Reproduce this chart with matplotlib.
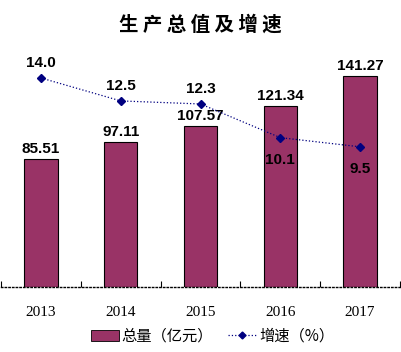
import numpy as np
import matplotlib.pyplot as plt
from matplotlib.lines import Line2D
from matplotlib.patches import Patch

years = ["2013", "2014", "2015", "2016", "2017"]
total = [85.51, 97.11, 107.57, 121.34, 141.27]
growth = [14.0, 12.5, 12.3, 10.1, 9.5]
growth_text = ["14.0", "12.5", "12.3", "10.1", "9.5"]

bar_color = "#993366"
line_color = "#000080"
cjk = ["Noto Sans CJK SC", "DejaVu Sans"]

fig = plt.figure(figsize=(4.01, 3.52), dpi=100)
ax = fig.add_axes([1 / 401, 65 / 352, 399 / 401, 247 / 352])
x = np.arange(len(years))

ax.bar(x, total, width=0.42, color=bar_color, edgecolor="black", linewidth=0.8, zorder=2)
ax.set_xlim(-0.5, len(years) - 0.5)
ax.set_ylim(0, 165.2)
for xi, v in zip(x, total):
    ax.annotate(f"{v:.2f}", (xi, v), xytext=(0, 2), textcoords="offset points",
                ha="center", va="bottom", fontsize=11, fontweight="bold",
                family="Liberation Sans")

for s in ["top", "left", "right"]:
    ax.spines[s].set_visible(False)
ax.spines["bottom"].set_linestyle(":")
ax.spines["bottom"].set_linewidth(1)
ax.set_yticks([])
ax.set_xticks(x)
ax.set_xticklabels(years, family="Liberation Serif", fontsize=11)
ax.tick_params(axis="x", which="major", length=0, pad=14)
ax.set_xticks(np.arange(len(years) + 1) - 0.5, minor=True)
ax.tick_params(axis="x", which="minor", direction="in", length=4, width=0.8)

ax2 = ax.twinx()
ax2.set_ylim(0.34, 16.48)
ax2.axis("off")
ax2.plot(x, growth, color=line_color, linestyle=":", linewidth=0.9,
         marker="D", markersize=3.8, zorder=3)
above = [True, True, True, False, False]
for xi, v, t, up in zip(x, growth, growth_text, above):
    ax2.annotate(t, (xi, v), xytext=(0, 11 if up else -16), textcoords="offset points",
                 ha="center", va="center", fontsize=11, fontweight="bold",
                 family="Liberation Sans")

fig.text(0.5, 1 - 25 / 352, "生 产 总 值 及 增 速", ha="center", va="center",
         fontsize=14, fontweight="heavy", family=cjk)

handles = [Patch(facecolor=bar_color, edgecolor="black", linewidth=0.6),
           Line2D([], [], color=line_color, linestyle=":", linewidth=0.9,
                  marker="D", markersize=3.5)]
fig.legend(handles, ["总量（亿元）", "增速（%）"], loc="center",
           bbox_to_anchor=(0.53, 1 - 336 / 352), ncol=2, frameon=False,
           prop={"family": cjk, "size": 11}, handlelength=1.8, handletextpad=0.2,
           columnspacing=1.0)

fig.savefig("out.png", dpi=100)
